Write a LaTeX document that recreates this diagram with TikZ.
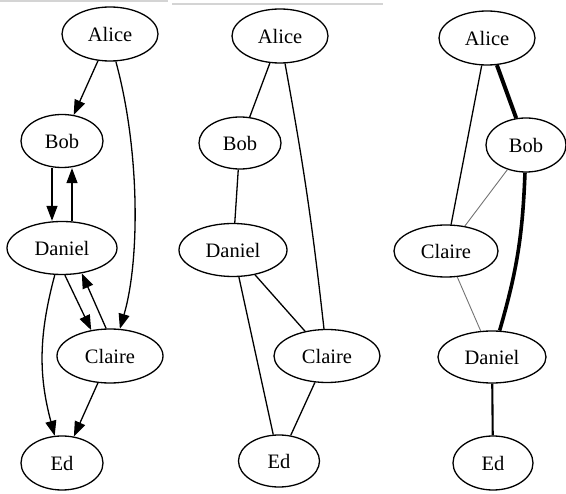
\documentclass[tikz,border=0pt]{standalone}
\usepackage{fontspec}
\setmainfont{Liberation Serif}
\usetikzlibrary{shapes.geometric,arrows.meta}
\begin{document}
\begin{tikzpicture}[x=1pt,y=1pt,
  every node/.style={font=\fontsize{20.5}{24}\selectfont},
  vert/.style={ellipse,draw,line width=1.3pt,inner sep=0pt},
  e/.style={line width=1.3pt},
  arr/.style={line width=1.3pt,-{Triangle[length=15pt,width=11pt]}},
  faint/.style={draw=black!55,line width=0.9pt},
  heavy/.style={line width=4pt},
  medium/.style={line width=2.1pt},
  rule/.style={draw=black!17,line width=1.3pt}]
\useasboundingbox (0,0) rectangle (566,-494);
% screenshot rules at top
\coordinate (r1a) at (0,-1); \coordinate (r1b) at (168,-1);
\coordinate (r2a) at (172,-4); \coordinate (r2b) at (383,-4);
\draw[rule] (r1a) -- (r1b);
\draw[rule] (r2a) -- (r2b);
% ---------- graph 1 ----------
\node[vert,minimum width=96pt,minimum height=54pt] (A1) at (110,-34) {Alice};
\node[vert,minimum width=82pt,minimum height=53pt] (B1) at (62,-141) {Bob};
\node[vert,minimum width=110pt,minimum height=53pt] (D1) at (62,-248) {Daniel};
\node[vert,minimum width=106pt,minimum height=54pt] (C1) at (110,-356) {Claire};
\node[vert,minimum width=82pt,minimum height=54pt] (E1) at (62,-463) {Ed};
\draw[arr] (A1) -- (B1);
\draw[arr] (A1.-78) .. controls (140,-150) and (140,-260) .. (C1.70);
\draw[arr] ([xshift=-10pt]B1.south) -- ([xshift=-10pt]D1.north);
\draw[arr] ([xshift=10pt]D1.north) -- ([xshift=10pt]B1.south);
\draw[arr] (D1.-84) -- (C1.126);
\draw[arr] (C1.98) -- (D1.-52);
\draw[arr] (D1) to[out=-105,in=105] (E1);
\draw[arr] (C1) -- (E1);
% ---------- graph 2 ----------
\node[vert,minimum width=96pt,minimum height=54pt] (A2) at (280,-36) {Alice};
\node[vert,minimum width=82pt,minimum height=52pt] (B2) at (240,-143) {Bob};
\node[vert,minimum width=108pt,minimum height=53pt] (D2) at (233,-250) {Daniel};
\node[vert,minimum width=106pt,minimum height=53pt] (C2) at (327,-356) {Claire};
\node[vert,minimum width=81pt,minimum height=52pt] (E2) at (279,-461) {Ed};
\draw[e] (A2) -- (B2);
\draw[e] (A2) to[bend left=2] (C2);
\draw[e] (B2) -- (D2);
\draw[e] (D2) -- (C2);
\draw[e] (D2) -- (E2);
\draw[e] (C2) -- (E2);
% ---------- graph 3 ----------
\node[vert,minimum width=96pt,minimum height=54pt] (A3) at (487,-38) {Alice};
\node[vert,minimum width=80pt,minimum height=54pt] (B3) at (526,-145) {Bob};
\node[vert,minimum width=104pt,minimum height=52pt] (C3) at (446,-251) {Claire};
\node[vert,minimum width=108pt,minimum height=52pt] (D3) at (492,-357) {Daniel};
\node[vert,minimum width=80pt,minimum height=54pt] (E3) at (493,-463) {Ed};
\draw[heavy] (A3) -- (B3);
\draw[e] (A3) -- (C3);
\draw[faint] (B3) -- (C3);
\draw[heavy,line width=3.6pt] (B3) to[bend left=7] (D3);
\draw[faint] (C3) -- (D3);
\draw[medium] (D3) -- (E3);
\end{tikzpicture}
\end{document}
